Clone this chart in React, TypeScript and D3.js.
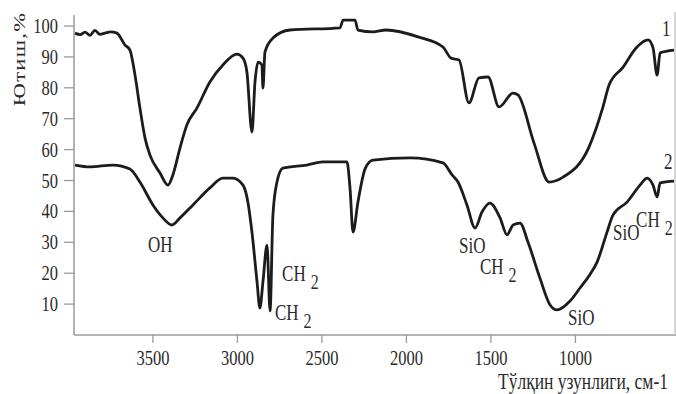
import React from 'react';
import * as d3 from 'd3';

// curve 1 (upper spectrum)
const wave1 = [3961, 3930, 3902, 3872, 3843, 3814, 3784, 3750, 3713, 3666, 3636, 3606, 3577, 3547, 3518, 3458, 3411, 3382, 3340, 3299, 3239, 3163, 3086, 3003, 2967, 2944, 2914, 2896, 2878, 2855, 2849, 2837, 2790, 2689, 2393, 2375, 2304, 2287, 2198, 2121, 1926, 1784, 1736, 1689, 1630, 1571, 1517, 1452, 1369, 1340, 1245, 1156, 1073, 920, 837, 801, 718, 641, 570, 541, 517, 499, 417];
const trans1 = [97.7, 97.2, 98.0, 97.0, 98.6, 97.3, 97.7, 98.1, 97.7, 93.9, 92.2, 84.1, 73.5, 63.8, 58.3, 52.4, 48.5, 51.8, 60.5, 68.0, 73.5, 81.9, 87.4, 90.9, 89.6, 85.1, 65.7, 81.9, 88.3, 87.4, 79.9, 91.6, 96.1, 98.7, 99.4, 101.9, 101.9, 98.7, 98.1, 98.7, 96.4, 93.2, 89.6, 89.0, 75.1, 83.2, 83.5, 73.8, 78.3, 77.7, 62.1, 49.5, 51.1, 60.8, 73.8, 80.9, 86.7, 92.9, 95.5, 92.9, 84.1, 91.3, 92.2];

// curve 2 (lower spectrum)
const wave2 = [3961, 3873, 3737, 3636, 3577, 3500, 3441, 3387, 3340, 3263, 3163, 3086, 3026, 2967, 2938, 2914, 2884, 2867, 2849, 2825, 2807, 2790, 2766, 2731, 2589, 2494, 2352, 2334, 2316, 2287, 2243, 2198, 1979, 1784, 1730, 1695, 1642, 1594, 1553, 1506, 1446, 1405, 1369, 1328, 1281, 1210, 1150, 1109, 1032, 973, 914, 872, 813, 778, 695, 618, 576, 541, 517, 499, 417];
const trans2 = [55.0, 54.4, 55.0, 53.7, 49.5, 42.1, 37.9, 35.6, 37.9, 42.1, 47.6, 50.8, 50.8, 48.5, 43.0, 33.3, 17.2, 8.7, 17.2, 29.1, 7.8, 38.8, 49.5, 54.0, 55.0, 56.0, 56.0, 47.6, 33.3, 43.0, 54.0, 56.6, 57.3, 55.7, 51.8, 49.5, 42.1, 34.6, 39.8, 42.7, 37.9, 32.4, 35.6, 36.2, 30.1, 18.4, 9.7, 8.1, 11.0, 15.2, 19.6, 23.6, 33.3, 38.8, 43.0, 48.5, 50.8, 48.5, 44.7, 49.2, 49.8];

const xTicks = [3500, 3000, 2500, 2000, 1500, 1000];
const yTicks = [10, 20, 30, 40, 50, 60, 70, 80, 90, 100];

// band labels: text, subscript, wavenumber, transmittance
const bandText = ['OH', 'CH', 'CH', 'SiO', 'CH', 'SiO', 'SiO', 'CH', '1', '2'];
const bandSub = ['', '2', '2', '', '2', '', '', '2', '', ''];
const bandWave = [3458, 2736, 2778, 1689, 1565, 1044, 778, 641, 488, 476];
const bandTrans = [26.9, 17.5, 4.9, 26.5, 19.7, 3.2, 30.7, 35.0, 96.8, 53.7];

const W = 676;
const H = 394;
const left = 74;
const bottom = 335;
const stretch = 1.32; // the scanned figure is taller than wide

export default function App() {
  const x = d3.scaleLinear().domain([3967, 405]).range([left, 676]);
  const y = d3.scaleLinear().domain([0, 100]).range([bottom, 26]);

  const line = d3.line<[number, number]>()
    .x(d => x(d[0]))
    .y(d => y(d[1]))
    .curve(d3.curveMonotoneX);

  const pts1 = wave1.map((w, i) => [w, trans1[i]] as [number, number]);
  const pts2 = wave2.map((w, i) => [w, trans2[i]] as [number, number]);

  const font = '"Liberation Serif", "Times New Roman", serif';
  const ink = '#2a2a2a';

  return (
    <svg width={W} height={H} style={{ position: 'absolute', left: 0, top: 0, background: '#fff' }}
      fontFamily={font}>
      {/* frame */}
      <line x1={left} x2={left} y1={15} y2={bottom} stroke="#9a9a9a" strokeWidth={1.5} />
      <line x1={left} x2={676} y1={bottom} y2={bottom} stroke="#9a9a9a" strokeWidth={1.5} />
      <line x1={675} x2={675} y1={12} y2={bottom} stroke="#c8c8c8" strokeWidth={1.5} />

      {yTicks.map(t => (
        <g key={'y' + t}>
          <line x1={left - 10} x2={left} y1={y(t)} y2={y(t)} stroke="#9a9a9a" strokeWidth={1.3} />
          <text transform={`translate(${left - 16},${y(t) + 7}) scale(1,${stretch})`}
            textAnchor="end" fontSize={16.5} fill={ink}>{t}</text>
        </g>
      ))}
      {xTicks.map(t => (
        <g key={'x' + t}>
          <line x1={x(t)} x2={x(t)} y1={bottom} y2={bottom + 8} stroke="#9a9a9a" strokeWidth={1.3} />
          <text transform={`translate(${x(t)},365) scale(1,${stretch})`}
            textAnchor="middle" fontSize={16.5} fill={ink}>{t}</text>
        </g>
      ))}

      <text transform={`translate(25,59) rotate(-90) scale(${stretch},1)`} textAnchor="middle"
        fontSize={17} fill={ink} letterSpacing={1}>Ютиш,%</text>
      <text transform={`translate(668,389) scale(1,${stretch})`} textAnchor="end"
        fontSize={17.5} fill={ink}>Тўлқин узунлиги, см-1</text>

      <path d={line(pts1) || ''} fill="none" stroke="#1c1c1c" strokeWidth={2.8} strokeLinejoin="round" />
      <path d={line(pts2) || ''} fill="none" stroke="#1c1c1c" strokeWidth={2.8} strokeLinejoin="round" />

      {bandText.map((t, i) => (
        <text key={'b' + i}
          transform={`translate(${t === 'OH' ? x(bandWave[i]) - 12 : x(bandWave[i])},${y(bandTrans[i])}) scale(1,${stretch})`}
          fontSize={17} fill={ink}>
          {t}
          {bandSub[i] && <tspan dx={5} dy={6} fontSize={16}>{bandSub[i]}</tspan>}
        </text>
      ))}
    </svg>
  );
}
